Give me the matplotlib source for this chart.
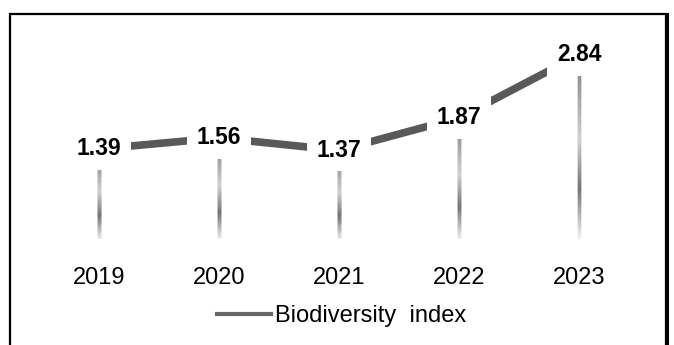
import numpy as np
import matplotlib
matplotlib.use('Agg')
import matplotlib.pyplot as plt
from matplotlib.collections import LineCollection
from matplotlib.colors import LinearSegmentedColormap
from matplotlib.lines import Line2D
from matplotlib.patches import Rectangle

# --- Data ---
years = ['2019', '2020', '2021', '2022', '2023']
values = [1.39, 1.56, 1.37, 1.87, 2.84]
series_name = 'Biodiversity  index'

plt.rcParams['font.family'] = ['Liberation Sans', 'DejaVu Sans']

fig = plt.figure(figsize=(6.74, 3.45), dpi=100)
ax = fig.add_axes([39 / 674, 1 - 239 / 345, 600 / 674, 194.4 / 345])

x = np.arange(len(years))

# main line
ax.plot(x, values, color='#595959', lw=5.5, solid_capstyle='butt', zorder=2)

# drop lines with a gray gradient
cmap = LinearSegmentedColormap.from_list(
    'drop', [(0, '#f4f4f4'), (0.28, '#747474'), (0.55, '#d2d2d2'), (1, '#808080')])
for xi, v in zip(x, values):
    ys = np.linspace(0, v, 80)
    segs = [[(xi, ys[i]), (xi, ys[i + 1])] for i in range(len(ys) - 1)]
    lc = LineCollection(segs, colors=cmap(np.linspace(0, 1, len(segs))),
                        linewidths=2.4, zorder=1, capstyle='projecting')
    ax.add_collection(lc)

# value labels
for xi, v in zip(x, values):
    ax.text(xi, v, f'{v:.2f}', ha='center', va='center', fontsize=16.5,
            fontweight='bold', zorder=3,
            bbox=dict(boxstyle='square,pad=0.42', fc='white', ec='none'))

ax.set_xlim(-0.5, 4.5)
ax.set_ylim(0, 3)
ax.set_xticks(x, years)
ax.set_yticks([])
ax.tick_params(length=0, labelsize=17, pad=20)
for s in ax.spines.values():
    s.set_visible(False)

# legend
handle = Line2D([], [], color='#666666', lw=3)
fig.legend([handle], [series_name], loc='center', bbox_to_anchor=(0.507, 0.084),
           frameon=False, fontsize=17, handlelength=2.3, handletextpad=0.17)

# outer border (bottom edge is off the canvas)
fig.add_artist(Rectangle((10 / 674, -0.1), 656 / 674, 1 - 14 / 345 + 0.1,
                         transform=fig.transFigure, fill=False, ec='black', lw=1.6))
fig.add_artist(Line2D([667 / 674, 667 / 674], [0, 1 - 14 / 345],
                      transform=fig.transFigure, color='black', lw=2.2))

fig.savefig('out.png', dpi=100)
